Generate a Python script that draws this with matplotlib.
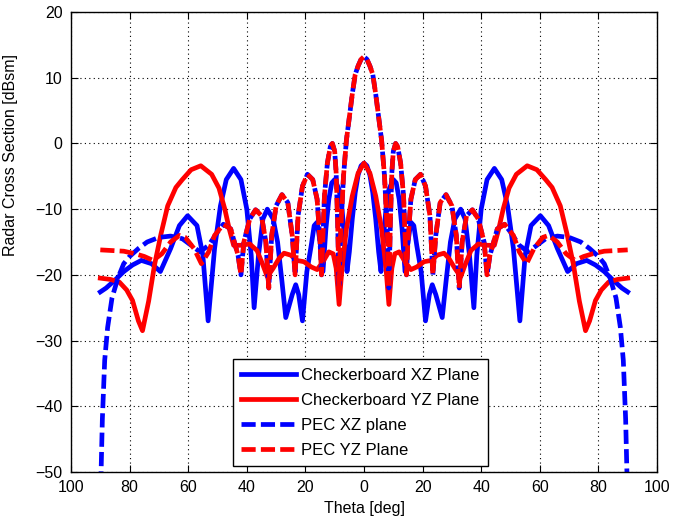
import numpy as np
import matplotlib
matplotlib.use("Agg")
import matplotlib.pyplot as plt

plt.rcParams['font.family'] = ['Liberation Sans', 'DejaVu Sans']

# ---- data (right half, theta >= 0; the pattern is symmetric about 0) ----
cb_xz_theta = [0, 1, 2, 3, 4, 5, 5.8, 6.5, 7.5, 8.5, 10, 11, 12, 13, 14, 15, 16, 17, 18,
               19.5, 21, 22.3, 23.3, 24.5, 26.7, 28, 29.5, 31, 33, 34.5, 36, 37.5, 38.5,
               40, 42, 44.5, 47, 49, 51, 53.2, 55, 57, 60.2, 63, 66, 69.5, 72.5, 76, 79,
               82, 85, 88, 90]
cb_xz_db = [-3.0, -3.4, -4.8, -7.5, -11.5, -16.5, -19.5, -15, -10, -7, -5.5, -6, -8.5, -13,
            -19.5, -15, -12, -12.5, -15.5, -19.5, -27, -23, -21.5, -23, -26.5, -21, -15,
            -11.5, -10, -11.5, -17, -25, -17, -10, -5.5, -3.8, -5.5, -9.5, -16, -27, -17,
            -12.5, -11, -12.5, -16, -19.5, -18.3, -17.8, -18.5, -19.5, -20.8, -22, -22.6]

cb_yz_theta = [0, 2, 4, 6, 7.5, 8.5, 9.5, 10.5, 12, 14, 16, 18, 20.5, 23, 25, 27.3, 29, 31,
               33, 34.5, 36.5, 39, 42, 44.5, 46, 47.5, 49.5, 52, 55.7, 59, 62, 64.2, 67,
               69.3, 71.5, 73.5, 75.6, 77, 79, 81, 83.5, 86.5, 90]
cb_yz_db = [-3.0, -4.5, -8, -13, -19, -24.5, -19, -16.8, -16.5, -18, -19.2, -18.8, -18,
            -17.8, -17, -16.7, -17.5, -19, -20.3, -18.5, -16.3, -15.3, -15.5, -15.5, -13,
            -10, -6.8, -4.7, -3.4, -4, -5.5, -6.7, -9.5, -13.8, -18.5, -24, -28.5, -27,
            -23.9, -22.3, -21.1, -20.7, -20.5]

pec_yz_theta = [0, 1, 2, 3, 4, 5, 6, 7, 8, 8.5, 9, 9.5, 10, 10.8, 11.5, 12.5, 13.5, 14.5,
                15, 16, 17.5, 19.3, 21, 22.5, 23.5, 24.5, 26, 28, 30, 31.5, 32.5, 33.5, 35,
                37, 39, 41, 42, 43, 45.5, 48, 51, 53, 55.5, 58, 61, 63, 66, 69, 72, 75, 78,
                82, 86, 90]
pec_yz_db = [13.2, 12.8, 11.8, 10.5, 7.5, 4, 0.5, -5, -14, -22, -12, -4.5, -1.2, 0.0,
             -0.5, -3, -8, -20, -15, -8.5, -5.5, -4.7, -6.5, -11, -20, -14, -9, -7.8,
             -9.5, -14, -22, -15, -11, -10.1, -11.5, -15, -20, -17, -13, -12.3, -14,
             -16.5, -18.3, -16, -14.3, -14.0, -15, -16.8, -17.8, -17.2, -16.8, -16.4,
             -16.3, -16.2]

pec_xz_theta = [0, 1, 2, 3, 4, 5, 6, 7, 8, 8.5, 9, 9.5, 10, 10.8, 11.5, 12.5, 13.5, 14.5,
                15, 16, 17.5, 19.3, 21, 22.5, 23.5, 24.5, 26, 28, 30, 31.5, 32.5, 33.5, 35,
                37, 39, 41, 42, 43, 45.5, 48, 50, 53, 56, 59, 62, 66, 70, 74, 77, 80, 82,
                84, 86, 87.5, 88.5, 89.3, 90]
pec_xz_db = [13.2, 12.8, 11.8, 10.5, 7.5, 4, 0.5, -5, -14, -22, -12, -4.5, -1.2, 0.0,
             -0.5, -3, -8, -20, -15, -8.5, -5.5, -4.7, -6.5, -11, -20, -14, -9, -7.8,
             -9.5, -14, -22, -15, -11, -10.1, -11.5, -15, -20, -17, -13, -12.3, -13.5,
             -15.5, -16.5, -15.5, -14.5, -14.1, -14.3, -15, -16, -17.2, -18.3, -20.5,
             -23.5, -28, -33, -42, -55]

labels = ['Checkerboard XZ Plane', 'Checkerboard YZ Plane', 'PEC XZ plane', 'PEC YZ Plane']
xticks = [-100, -80, -60, -40, -20, 0, 20, 40, 60, 80, 100]
xticklabels = ['100', '80', '60', '40', '20', '0', '20', '40', '60', '80', '100']
yticks = [-50, -40, -30, -20, -10, 0, 10, 20]


def full(theta, db):
    t = np.asarray(theta, float)
    d = np.asarray(db, float)
    return np.concatenate([-t[:0:-1], t]), np.concatenate([d[:0:-1], d])


fig = plt.figure(figsize=(6.75, 5.27), dpi=100)
ax = fig.add_axes([71 / 675, 55 / 527, 586 / 675, 460 / 527])

lw = 3.4
dash = (0, (3.0, 1.1))
x, y = full(cb_xz_theta, cb_xz_db)
ax.plot(x, y, color='#0000ff', lw=lw, label=labels[0], solid_joinstyle='round')
x, y = full(cb_yz_theta, cb_yz_db)
ax.plot(x, y, color='#ff0000', lw=lw, label=labels[1], solid_joinstyle='round')
x, y = full(pec_xz_theta, pec_xz_db)
ax.plot(x, y, color='#0000ff', lw=lw, ls=dash, label=labels[2])
x, y = full(pec_yz_theta, pec_yz_db)
ax.plot(x, y, color='#ff0000', lw=lw, ls=dash, label=labels[3])

ax.set_xlim(-100, 100)
ax.set_ylim(-50, 20)
ax.set_xticks(xticks)
ax.set_xticklabels(xticklabels)
ax.set_yticks(yticks)
ax.tick_params(direction='in', top=True, right=True, labelsize=11.5, length=5, width=0.8,
               pad=6)
ax.grid(True, color='black', linestyle=(0, (1, 3)), linewidth=0.8)
for s in ax.spines.values():
    s.set_linewidth(1.0)
ax.set_xlabel('Theta [deg]', fontsize=11.5, labelpad=4)
ax.set_ylabel('Radar Cross Section [dBsm]', fontsize=11.5)
ax.yaxis.set_label_coords(-0.09, 0.69)

leg = ax.legend(loc='lower left', bbox_to_anchor=(0.2765, 0.013), borderaxespad=0,
                fontsize=12, frameon=True, fancybox=False, framealpha=1,
                edgecolor='black', handlelength=3.3, handletextpad=0.3,
                labelspacing=0.6, borderpad=0.5)
leg.get_frame().set_linewidth(1.0)

fig.savefig('out.png', dpi=100)
